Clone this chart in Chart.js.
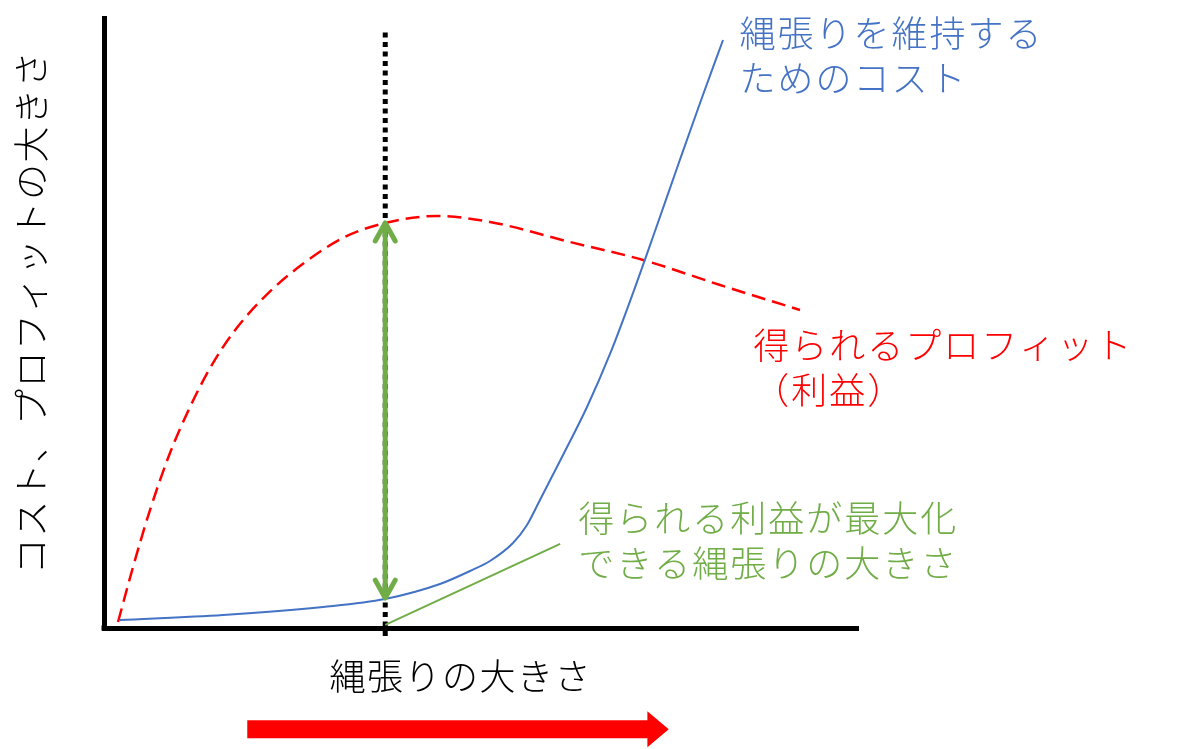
<!DOCTYPE html>
<html>
<head>
<meta charset="utf-8">
<script src="https://cdn.jsdelivr.net/npm/chart.js@4.4.0/dist/chart.umd.min.js"></script>
<style>
    html, body { margin: 0; padding: 0; background: #ffffff; }
    #wrap { width: 1180px; height: 749px; }
</style>
</head>
<body>
<div id="wrap"><canvas id="chart_territory"></canvas></div>
<script>
// profit curve (red dashed), x = territory size, y = amount
var profitX = [1.86, 3.85, 6.1, 8.75, 11.41, 14.06, 17.11, 21.62, 26.39, 31.7, 37.27, 44.16, 51.19, 61.8, 71.49, 81.7, 92.31];
var profitY = [0.98, 10, 19.34, 28.69, 36.23, 42.6, 48.4, 54.7, 59.7, 63.95, 66.4, 67.54, 66.56, 63.28, 60.33, 56.23, 52.13];

// cost of keeping the territory (blue)
var costX = [2.12, 15.78, 29.05, 37.27, 44.56, 48.54, 51.19, 54.24, 56.1, 57.82, 60.88, 64.06, 67.11, 70.16, 73.08, 76, 79.05, 82.1];
var costY = [1.31, 2.13, 3.44, 4.75, 7.21, 9.34, 10.98, 13.93, 16.89, 20.98, 28.36, 36.23, 44.92, 54.92, 65.08, 75.41, 86.07, 96.39];

// optimum territory size
var bestX = [37.3, 37.3];
var bestArrowY = [4.9, 66.4];
var guideY = [-1.3, 97.7];
var pointerX = [37.3, 60.5];
var pointerY = [0.5, 13.8];

var axisTitleX = "縄張りの大きさ";
var axisTitleY = "コスト、プロフィットの大きさ";
var costLabel = ["縄張りを維持する", "ためのコスト"];
var profitLabel = ["得られるプロフィット", "（利益）"];
var bestLabel = ["得られる利益が最大化", "できる縄張りの大きさ"];

var RED = "#FF0000";
var BLUE = "#4472C4";
var GREEN = "#70AD47";
var FONT = '300 36px "Noto Sans CJK JP", "Noto Sans", sans-serif';

function toPoints(xs, ys) {
    var pts = [];
    for (var i = 0; i < xs.length; i++) {
        pts.push({ x: xs[i], y: ys[i] });
    }
    return pts;
}

// arrowheads, labels, titles and the big red arrow
var decorations = {
    id: "decorations",
    afterDatasetsDraw: function (chart) {
        var ctx = chart.ctx;
        var meta = chart.getDatasetMeta(3);
        var p0 = meta.data[0], p1 = meta.data[1];
        ctx.save();
        ctx.strokeStyle = GREEN;
        ctx.lineWidth = 5;
        ctx.lineCap = "round";
        ctx.lineJoin = "round";
        ctx.beginPath();
        ctx.moveTo(p0.x - 10, p0.y - 18);
        ctx.lineTo(p0.x, p0.y);
        ctx.lineTo(p0.x + 10, p0.y - 18);
        ctx.moveTo(p1.x - 10, p1.y + 18);
        ctx.lineTo(p1.x, p1.y);
        ctx.lineTo(p1.x + 10, p1.y + 18);
        ctx.stroke();
        // corner of the axes
        var a = chart.chartArea;
        ctx.fillStyle = "#000000";
        ctx.fillRect(a.left - 2.5, a.bottom - 2.5, 5, 5);
        ctx.restore();
    },
    afterDraw: function (chart) {
        var ctx = chart.ctx;
        var xs = chart.scales.x, ys = chart.scales.y;
        function px(v) { return xs.getPixelForValue(v); }
        function py(v) { return ys.getPixelForValue(v); }
        function lines(arr, x, y, color) {
            ctx.fillStyle = color;
            for (var i = 0; i < arr.length; i++) {
                ctx.fillText(arr[i], px(x), py(y) + i * 45);
            }
        }
        ctx.save();
        ctx.font = FONT;
        ctx.letterSpacing = "2px";
        ctx.textBaseline = "middle";
        ctx.textAlign = "left";
        lines(costLabel, 84.3, 97.5, BLUE);
        lines(profitLabel, 86.1, 46.4, RED);
        lines(bestLabel, 62.9, 18, GREEN);

        ctx.letterSpacing = "1.5px";
        ctx.fillStyle = "#000000";
        ctx.textAlign = "center";
        ctx.fillText(axisTitleX, px(47.3), py(-8));
        ctx.translate(px(-9.6), py(51.8));
        ctx.rotate(-Math.PI / 2);
        ctx.fillText(axisTitleY, 0, 0);
        ctx.restore();

        // direction arrow under the x axis
        var x0 = px(19), x1 = px(72.2), x2 = px(74.9), yc = py(-16.6);
        ctx.save();
        ctx.fillStyle = RED;
        ctx.fillRect(x0, yc - 9, x1 - x0, 18);
        ctx.beginPath();
        ctx.moveTo(x1 - 1, yc - 18);
        ctx.lineTo(x2, yc);
        ctx.lineTo(x1 - 1, yc + 18);
        ctx.closePath();
        ctx.fill();
        ctx.restore();
    }
};

var chart = document.getElementById("chart_territory");
if (chart != null) {
    var charTerritory = chart.getContext("2d");
    var myCharTerritory = new Chart(charTerritory, {
        type: "line",
        data: {
            datasets: [
                {
                    data: toPoints(profitX, profitY),
                    borderColor: RED,
                    borderWidth: 2.5,
                    borderDash: [14, 7],
                    cubicInterpolationMode: "monotone",
                    pointRadius: 0,
                    order: 3,
                },
                {
                    data: toPoints(costX, costY),
                    borderColor: BLUE,
                    borderWidth: 2,
                    cubicInterpolationMode: "monotone",
                    pointRadius: 0,
                    order: 2,
                },
                {
                    data: toPoints(bestX, guideY),
                    borderColor: "#000000",
                    borderWidth: 5,
                    borderDash: [5, 4.5],
                    pointRadius: 0,
                    clip: false,
                    order: 4,
                },
                {
                    data: toPoints(bestX, bestArrowY),
                    borderColor: GREEN,
                    borderWidth: 5,
                    pointRadius: 0,
                    order: 0,
                },
                {
                    data: toPoints(pointerX, pointerY),
                    borderColor: GREEN,
                    borderWidth: 2,
                    pointRadius: 0,
                    order: 1,
                },
            ],
        },
        options: {
            responsive: true,
            maintainAspectRatio: false,
            animation: false,
            layout: {
                padding: { left: 104, right: 322, top: 18, bottom: 121 },
            },
            plugins: {
                legend: { display: false },
                tooltip: { enabled: false },
            },
            scales: {
                x: {
                    type: "linear",
                    min: 0,
                    max: 100,
                    ticks: { display: false },
                    grid: { display: false, drawTicks: false },
                    border: { display: true, color: "#000000", width: 5 },
                },
                y: {
                    type: "linear",
                    min: 0,
                    max: 100,
                    ticks: { display: false },
                    grid: { display: false, drawTicks: false },
                    border: { display: true, color: "#000000", width: 5 },
                },
            },
        },
        plugins: [decorations],
    });
}
</script>
</body>
</html>
